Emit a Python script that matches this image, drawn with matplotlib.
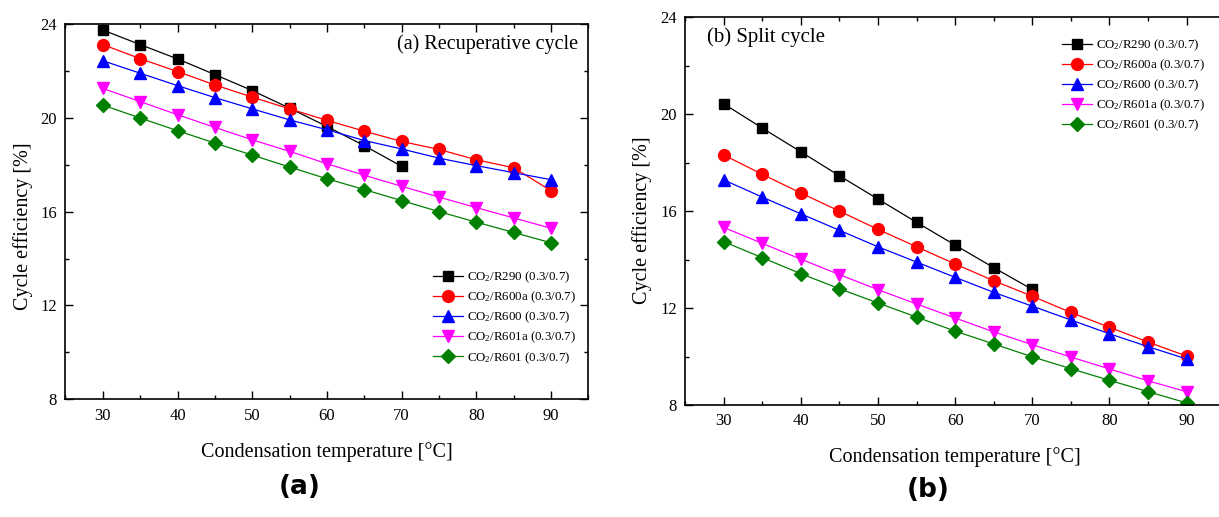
import matplotlib
matplotlib.use("Agg")
import matplotlib.pyplot as plt
from matplotlib.ticker import MultipleLocator

plt.rcParams['font.family'] = ['Liberation Serif', 'DejaVu Serif']
plt.rcParams['mathtext.fontset'] = 'custom'
plt.rcParams['mathtext.rm'] = 'Liberation Serif'
plt.rcParams['mathtext.it'] = 'Liberation Serif:italic'

temps = [30, 35, 40, 45, 50, 55, 60, 65, 70, 75, 80, 85, 90]
temps_r290 = [30, 35, 40, 45, 50, 55, 60, 65, 70]

# (a) Recuperative cycle
rec_r290 = [23.74, 23.12, 22.51, 21.84, 21.16, 20.41, 19.63, 18.81, 17.93]
rec_r600a = [23.12, 22.52, 21.97, 21.40, 20.88, 20.38, 19.89, 19.43, 18.99, 18.65, 18.21, 17.87, 16.89]
rec_r600 = [22.43, 21.90, 21.37, 20.86, 20.38, 19.91, 19.49, 19.03, 18.67, 18.28, 17.96, 17.66, 17.36]
rec_r601a = [21.25, 20.69, 20.13, 19.59, 19.06, 18.57, 18.04, 17.55, 17.08, 16.62, 16.17, 15.73, 15.29]
rec_r601 = [20.54, 19.99, 19.45, 18.92, 18.41, 17.90, 17.40, 16.94, 16.47, 16.00, 15.55, 15.11, 14.67]

# (b) Split cycle
spl_r290 = [20.43, 19.43, 18.45, 17.46, 16.50, 15.54, 14.60, 13.67, 12.77]
spl_r600a = [18.32, 17.52, 16.75, 16.00, 15.25, 14.53, 13.82, 13.13, 12.49, 11.82, 11.21, 10.60, 10.02]
spl_r600 = [17.29, 16.58, 15.89, 15.21, 14.53, 13.90, 13.27, 12.65, 12.08, 11.51, 10.94, 10.41, 9.90]
spl_r601a = [15.33, 14.67, 14.02, 13.38, 12.76, 12.17, 11.59, 11.02, 10.49, 9.98, 9.49, 9.00, 8.55]
spl_r601 = [14.74, 14.08, 13.42, 12.80, 12.21, 11.63, 11.05, 10.52, 9.99, 9.50, 9.02, 8.55, 8.09]

labels = [r'CO$_2$/R290 (0.3/0.7)', r'CO$_2$/R600a (0.3/0.7)', r'CO$_2$/R600 (0.3/0.7)',
          r'CO$_2$/R601a (0.3/0.7)', r'CO$_2$/R601 (0.3/0.7)']
colors = ['black', '#ff0000', '#0000ff', '#ff00ff', '#008000']
markers = ['s', 'o', '^', 'v', 'D']
msizes = [7.5, 8.5, 8.5, 8.5, 7]

fig = plt.figure(figsize=(12.19, 5.17), dpi=100)
axA = fig.add_axes([0.0537, 0.2277, 0.429, 0.726])
axB = fig.add_axes([0.562, 0.2166, 0.443, 0.750])

def draw(ax, series, right_ticks=True):
    for (xs, ys), lab, c, m, ms in zip(series, labels, colors, markers, msizes):
        ax.plot(xs, ys, color=c, marker=m, markersize=ms, linewidth=0.9, label=lab)
    ax.set_xlim(25, 95)
    ax.set_ylim(8, 24)
    ax.xaxis.set_major_locator(MultipleLocator(10))
    ax.xaxis.set_minor_locator(MultipleLocator(5))
    ax.yaxis.set_major_locator(MultipleLocator(4))
    ax.yaxis.set_minor_locator(MultipleLocator(2))
    ax.tick_params(which='both', direction='in', top=True, right=right_ticks,
                   labelsize=12, width=1.0, pad=6)
    ax.tick_params(which='major', length=6)
    ax.tick_params(which='minor', length=3)
    for s in ax.spines.values():
        s.set_linewidth(1.2)
    ax.set_xlabel('Condensation temperature [°C]', fontsize=14.5, labelpad=13)
    ax.set_ylabel('Cycle efficiency [%]', fontsize=14.5)

draw(axA, [(temps_r290, rec_r290), (temps, rec_r600a), (temps, rec_r600), (temps, rec_r601a), (temps, rec_r601)])
draw(axB, [(temps_r290, spl_r290), (temps, spl_r600a), (temps, spl_r600), (temps, spl_r601a), (temps, spl_r601)],
     right_ticks=False)

axA.yaxis.set_label_coords(-0.062, 0.462)
axB.yaxis.set_label_coords(-0.062, 0.477)

axA.text(0.98, 0.945, '(a) Recuperative cycle', transform=axA.transAxes, ha='right', va='center', fontsize=14.5)
axB.text(0.04, 0.95, '(b) Split cycle', transform=axB.transAxes, ha='left', va='center', fontsize=15)

legkw = dict(fontsize=9.3, frameon=False, handlelength=2.35, handletextpad=0.3,
             labelspacing=0.36, borderaxespad=0, borderpad=0, loc='upper left')
axA.legend(bbox_to_anchor=(0.703, 0.345), **legkw)
axB.legend(bbox_to_anchor=(0.6976, 0.948), **legkw)

fig.text(300/1219, 1 - 487/517, '(a)', fontsize=19, fontweight='bold', family='DejaVu Sans', ha='center', va='center')
fig.text(928/1219, 1 - 490/517, '(b)', fontsize=19, fontweight='bold', family='DejaVu Sans', ha='center', va='center')

fig.savefig('out.png', dpi=100)
